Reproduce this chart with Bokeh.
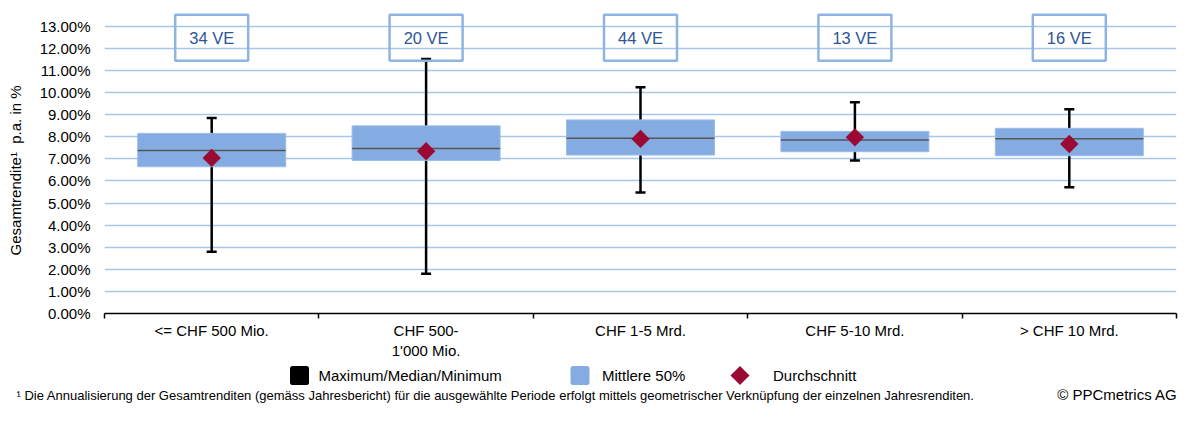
import numpy as np
from bokeh.plotting import figure
from bokeh.models import Range1d, FixedTicker, PrintfTickFormatter, ColumnDataSource
from bokeh.layouts import column
from bokeh.embed import file_html
from bokeh.resources import INLINE
from bokeh.core.properties import value

# ---------------- data ----------------
categories = ["<= CHF 500 Mio.", "CHF 500-\n1'000 Mio.", "CHF 1-5 Mrd.", "CHF 5-10 Mrd.", "> CHF 10 Mrd."]
counts = ["34 VE", "20 VE", "44 VE", "13 VE", "16 VE"]
maximum = [8.85, 11.52, 10.24, 9.56, 9.24]
upper_quartile = [8.15, 8.49, 8.76, 8.24, 8.38]
median = [7.37, 7.47, 7.93, 7.85, 7.91]
lower_quartile = [6.64, 6.92, 7.17, 7.32, 7.14]
minimum = [2.79, 1.80, 5.48, 6.92, 5.71]
mean = [7.04, 7.34, 7.90, 7.97, 7.67]
y_ticks = list(range(0, 14))

legend_labels = ["Maximum/Median/Minimum", "Mittlere 50%", "Durchschnitt"]
footnote = ("\u00b9 Die Annualisierung der Gesamtrenditen (gem\u00e4ss Jahresbericht) f\u00fcr die ausgew\u00e4hlte "
            "Periode erfolgt mittels geometrischer Verkn\u00fcpfung der einzelnen Jahresrenditen.")
copyright_text = "\u00a9 PPCmetrics AG"
y_title = "Gesamtrendite\u00b9\u00a0 p.a. in %"

# ---------------- styling ----------------
FONT = "Liberation Sans"
BAR_COLOR = "#2456A0"
BOX_COLOR = "#84ACE2"
MEAN_COLOR = "#9B0A33"
GRID_COLOR = "#A9C5E8"
VE_TEXT = "#2E5597"
VE_BORDER = "#8DB4E2"

W = 1178
TOP_H = 6
FRAME_H = 307          # frame from page y 6 to 313
BOTTOM = 48
H1 = FRAME_H + BOTTOM
H2 = 405 - TOP_H - H1
LEFT = 104
RIGHT = 2
PX_PER_PCT = 22.1
Y_MAX = FRAME_H / PX_PER_PCT

n = len(categories)
xc = [i + 0.5 for i in range(n)]
px_per_cat = (W - LEFT - RIGHT) / n
box_half = 74 / px_per_cat
cap_half = 5 / px_per_cat
ve_half = 36.5 / px_per_cat


def page_y(py):
    """page pixel row -> data value of the main plot"""
    return (313 - py) / PX_PER_PCT


src = ColumnDataSource(dict(
    x=xc,
    mx=maximum, q3=upper_quartile, med=median, q1=lower_quartile, mn=minimum, mean=mean,
    left=[x - box_half for x in xc], right=[x + box_half for x in xc],
    cl=[x - cap_half for x in xc], cr=[x + cap_half for x in xc],
    vl=[x - ve_half for x in xc], vr=[x + ve_half for x in xc],
    label=counts,
))

# ---------------- top bar ----------------
bar = figure(width=W, height=TOP_H, x_range=Range1d(0, 1), y_range=Range1d(0, 1),
             output_backend="svg", toolbar_location=None, min_border=0,
             x_axis_location=None, y_axis_location=None)
bar.grid.visible = False
bar.outline_line_color = None
bar.background_fill_color = BAR_COLOR
bar.border_fill_color = BAR_COLOR
bar.frame_align = False

# ---------------- main plot ----------------
p = figure(width=W, height=H1, x_range=Range1d(0, n), y_range=Range1d(0, Y_MAX),
           output_backend="svg", toolbar_location=None,
           min_border_left=LEFT, min_border_right=RIGHT, min_border_top=0,
           min_border_bottom=BOTTOM)
p.outline_line_color = None
p.background_fill_color = "white"
p.border_fill_color = "white"

xa = p.xaxis[0]
xa.ticker = FixedTicker(ticks=xc, minor_ticks=list(range(n + 1)))
xa.major_label_overrides = {x: lab for x, lab in zip(xc, categories)}
xa.major_tick_out = 0
xa.major_tick_in = 0
xa.major_tick_line_color = None
xa.minor_tick_out = 5
xa.minor_tick_in = 0
xa.minor_tick_line_color = "black"
xa.minor_tick_line_width = 1.5
xa.axis_line_color = "black"
xa.axis_line_width = 1.5
xa.major_label_text_font = FONT
xa.major_label_text_font_size = "15px"
xa.major_label_text_color = "black"
xa.major_label_standoff = 3

ya = p.yaxis[0]
ya.ticker = FixedTicker(ticks=y_ticks)
ya.formatter = PrintfTickFormatter(format="%.2f%%")
ya.axis_line_color = None
ya.major_tick_line_color = None
ya.minor_tick_line_color = None
ya.major_tick_out = 0
ya.major_tick_in = 0
ya.major_label_standoff = 14
ya.major_label_text_font = FONT
ya.major_label_text_font_size = "15px"
ya.major_label_text_color = "black"
ya.axis_label = y_title + "\u00a0" * 5
ya.axis_label_text_font = FONT
ya.axis_label_text_font_size = "15px"
ya.axis_label_text_font_style = "normal"
ya.axis_label_text_color = "black"
ya.axis_label_standoff = 13

p.xgrid.visible = False
p.ygrid[0].ticker = FixedTicker(ticks=y_ticks[1:])
p.ygrid.grid_line_color = GRID_COLOR
p.ygrid.grid_line_width = 1.5

# whiskers
p.segment(x0="x", y0="mn", x1="x", y1="mx", line_color="black", line_width=2.5, source=src)
p.segment(x0="cl", y0="mx", x1="cr", y1="mx", line_color="black", line_width=2.5, source=src)
p.segment(x0="cl", y0="mn", x1="cr", y1="mn", line_color="black", line_width=2.5, source=src)
# boxes (middle 50%)
p.quad(left="left", right="right", bottom="q1", top="q3", fill_color=BOX_COLOR,
       line_color="#9BBCE8", line_width=1, source=src)
# median
p.segment(x0="left", y0="med", x1="right", y1="med", line_color="#555555", line_width=1.5, source=src)
# mean
p.scatter(x="x", y="mean", marker="square", angle=np.pi / 4, size=13,
          fill_color=MEAN_COLOR, line_color=None, source=src)

# count boxes
ve_top = page_y(14.3)
ve_bot = page_y(60.3)
p.quad(left="vl", right="vr", bottom=ve_bot, top=ve_top, fill_color=None,
       line_color=VE_BORDER, line_width=2.5, source=src)
p.text(x="x", y=page_y(37.5), text="label", text_align="center", text_baseline="middle",
       text_font=value(FONT), text_font_size="16.5px", text_color=VE_TEXT, source=src)

# ---------------- legend / footnote ----------------
p2 = figure(width=W, height=H2, x_range=Range1d(0, W), y_range=Range1d(H2, 0),
            output_backend="svg", toolbar_location=None, min_border=0,
            x_axis_location=None, y_axis_location=None)
p2.grid.visible = False
p2.outline_line_color = None
p2.background_fill_color = "white"
p2.border_fill_color = "white"
p2.frame_align = False

ly = 375 - (TOP_H + H1)
p2.scatter(x=[299], y=[ly], marker="square", size=14, fill_color="black", line_color="black",
           line_width=5, line_join="round")
p2.scatter(x=[579.5], y=[ly], marker="square", size=14, fill_color=BOX_COLOR, line_color=BOX_COLOR,
           line_width=5, line_join="round")
p2.scatter(x=[739.5], y=[ly], marker="square", angle=np.pi / 4, size=13.5,
           fill_color=MEAN_COLOR, line_color=None)
p2.text(x=[318, 601.5, 772.5], y=[ly] * 3, text=legend_labels, text_align="left", text_baseline="middle",
        text_font=value(FONT), text_font_size="15px", text_color="black")

fy = 395 - (TOP_H + H1)
p2.text(x=[16], y=[fy], text=[footnote], text_align="left", text_baseline="middle",
        text_font=value(FONT), text_font_size="13px", text_color="black")
p2.text(x=[1177], y=[fy - 1], text=[copyright_text], text_align="right", text_baseline="middle",
        text_font=value(FONT), text_font_size="15px", text_color="black")

layout = column(bar, p, p2, spacing=0)
open("out.html", "w").write(file_html(layout, INLINE))
